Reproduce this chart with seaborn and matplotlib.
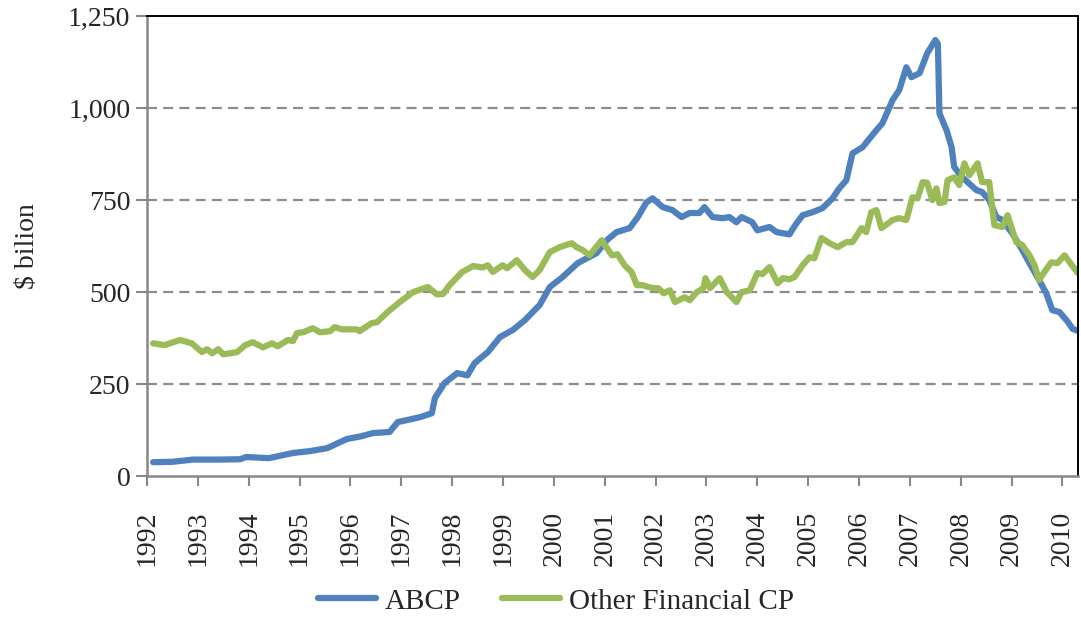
import matplotlib
matplotlib.use("Agg")
import matplotlib.pyplot as plt
import matplotlib.ticker as mticker
import seaborn as sns
import pandas as pd

# ABCP outstanding ($ billion)
abcp_year = [1992.12, 1992.5, 1992.9, 1993.4, 1993.83, 1993.95, 1994.4, 1994.87, 1995.2, 1995.54,
             1995.93, 1996.2, 1996.44, 1996.77, 1996.93, 1997.1, 1997.36, 1997.6, 1997.66, 1997.85,
             1998.1, 1998.3, 1998.44, 1998.7, 1998.94, 1999.19, 1999.43, 1999.72, 1999.92, 2000.17,
             2000.47, 2000.84, 2001.04, 2001.23, 2001.49, 2001.65, 2001.82, 2001.94, 2002.14, 2002.33,
             2002.51, 2002.67, 2002.86, 2002.96, 2003.12, 2003.32, 2003.45, 2003.59, 2003.69, 2003.9,
             2004.0, 2004.24, 2004.38, 2004.63, 2004.77, 2004.89, 2005.08, 2005.28, 2005.48, 2005.61,
             2005.75, 2005.87, 2006.07, 2006.34, 2006.46, 2006.66, 2006.79, 2006.93, 2007.03, 2007.19,
             2007.34, 2007.5, 2007.55, 2007.58, 2007.72, 2007.82, 2007.87, 2008.03, 2008.31, 2008.42,
             2008.56, 2008.7, 2008.82, 2009.01, 2009.21, 2009.35, 2009.54, 2009.68, 2009.8, 2009.94,
             2010.1, 2010.2, 2010.3]
abcp_value = [38, 39, 45, 45, 46, 52, 49, 63, 68, 76,
              101, 108, 117, 120, 147, 152, 160, 171, 212, 253,
              280, 274, 307, 337, 378, 397, 424, 465, 514, 541,
              579, 606, 641, 663, 674, 704, 744, 755, 731, 723,
              704, 715, 715, 731, 704, 701, 704, 690, 704, 690,
              668, 677, 663, 657, 687, 709, 717, 728, 755, 782,
              804, 877, 894, 940, 959, 1022, 1049, 1111, 1084, 1095,
              1149, 1185, 1175, 986, 940, 894, 840, 812, 777, 772,
              750, 704, 696, 660, 614, 579, 533, 497, 451, 446,
              420, 400, 395]

# Other financial CP outstanding ($ billion)
ofcp_year = [1992.12, 1992.35, 1992.45, 1992.65, 1992.88, 1993.08, 1993.18, 1993.28, 1993.4, 1993.5,
             1993.77, 1993.93, 1994.08, 1994.28, 1994.46, 1994.57, 1994.77, 1994.87, 1994.95, 1995.07,
             1995.26, 1995.4, 1995.6, 1995.69, 1995.83, 1996.12, 1996.18, 1996.42, 1996.52, 1996.73,
             1996.97, 1997.23, 1997.52, 1997.7, 1997.82, 1997.95, 1998.19, 1998.41, 1998.6, 1998.7,
             1998.8, 1998.99, 1999.08, 1999.27, 1999.43, 1999.58, 1999.72, 1999.92, 2000.11, 2000.35,
             2000.45, 2000.57, 2000.7, 2000.94, 2001.14, 2001.25, 2001.39, 2001.53, 2001.63, 2001.74,
             2001.94, 2002.05, 2002.16, 2002.28, 2002.38, 2002.57, 2002.67, 2002.81, 2002.94, 2002.98,
             2003.07, 2003.26, 2003.4, 2003.59, 2003.69, 2003.85, 2004.0, 2004.1, 2004.24, 2004.4,
             2004.5, 2004.63, 2004.73, 2004.89, 2005.03, 2005.12, 2005.26, 2005.42, 2005.58, 2005.75,
             2005.87, 2006.05, 2006.14, 2006.24, 2006.34, 2006.44, 2006.66, 2006.79, 2006.93, 2007.05,
             2007.15, 2007.25, 2007.34, 2007.44, 2007.52, 2007.58, 2007.68, 2007.74, 2007.87, 2007.97,
             2008.07, 2008.17, 2008.33, 2008.42, 2008.56, 2008.66, 2008.82, 2008.92, 2009.09, 2009.21,
             2009.35, 2009.45, 2009.54, 2009.64, 2009.78, 2009.9, 2010.04, 2010.3]
ofcp_value = [361, 356, 361, 370, 361, 337, 345, 334, 345, 331,
              337, 356, 364, 350, 361, 353, 370, 367, 389, 391,
              402, 391, 394, 405, 399, 399, 394, 416, 418, 446,
              473, 500, 514, 494, 495, 519, 554, 571, 567, 573,
              555, 573, 565, 587, 560, 541, 560, 609, 622, 633,
              622, 614, 600, 641, 600, 603, 573, 554, 519, 519,
              511, 511, 497, 505, 473, 486, 478, 500, 511, 538,
              511, 538, 500, 473, 500, 505, 552, 549, 568, 524,
              538, 535, 541, 573, 595, 592, 647, 633, 622, 636,
              636, 674, 663, 717, 723, 674, 696, 701, 696, 758,
              755, 799, 797, 750, 782, 742, 745, 804, 812, 791,
              850, 818, 850, 799, 799, 682, 677, 709, 636, 628,
              600, 573, 533, 554, 581, 579, 600, 552]

years = list(range(1992, 2011))
y_ticks = [0, 250, 500, 750, 1000, 1250]

df = pd.concat([
    pd.DataFrame({"year": abcp_year, "value": abcp_value, "series": "ABCP"}),
    pd.DataFrame({"year": ofcp_year, "value": ofcp_value, "series": "Other Financial CP"}),
])

sns.set_theme(style="white")
plt.rcParams["font.family"] = ["Liberation Serif", "DejaVu Serif"]

fig = plt.figure(figsize=(10.81, 6.2), dpi=100)
ax = fig.add_axes([0.136, 0.232, 0.861, 0.742])

sns.lineplot(data=df, x="year", y="value", hue="series", sort=False,
             palette={"ABCP": "#4F81BD", "Other Financial CP": "#9BBB59"},
             linewidth=4.5, ax=ax, legend=False)

ax.set_xlim(1992, 2010.3)
ax.set_ylim(0, 1250)
ax.set_xticks(years)
ax.set_xticklabels([str(y) for y in years], rotation=90, fontsize=20)
ax.set_yticks(y_ticks)
ax.yaxis.set_major_formatter(mticker.FuncFormatter(lambda v, p: f"{int(v):,}"))
ax.tick_params(axis="y", labelsize=20, length=8, width=1.5, color="#888888", direction="out", pad=4)
ax.tick_params(axis="x", length=7, width=1.5, color="#888888", direction="out", pad=18)
ax.tick_params(left=True, bottom=True)

for v in y_ticks[1:-1]:
    ax.axhline(v, color="#8c8c8c", linewidth=1.6, linestyle=(0, (4.5, 2.8)), zorder=0)

for side in ["left", "bottom"]:
    ax.spines[side].set_color("#888888")
    ax.spines[side].set_linewidth(1.8)
for side in ["top", "right"]:
    ax.spines[side].set_color("black")
    ax.spines[side].set_linewidth(1.4)

ax.set_xlabel("")
ax.set_ylabel("$ bilion", fontsize=20, labelpad=20)

handles = [plt.Line2D([], [], color="#4F81BD", linewidth=4.5),
           plt.Line2D([], [], color="#9BBB59", linewidth=4.5)]
fig.legend(handles, ["ABCP", "Other Financial CP"], loc="center", bbox_to_anchor=(0.514, 0.03),
           ncol=2, frameon=False, fontsize=21, handlelength=2.0, columnspacing=1.4, handletextpad=0.3)

fig.savefig("out.png", dpi=100)
